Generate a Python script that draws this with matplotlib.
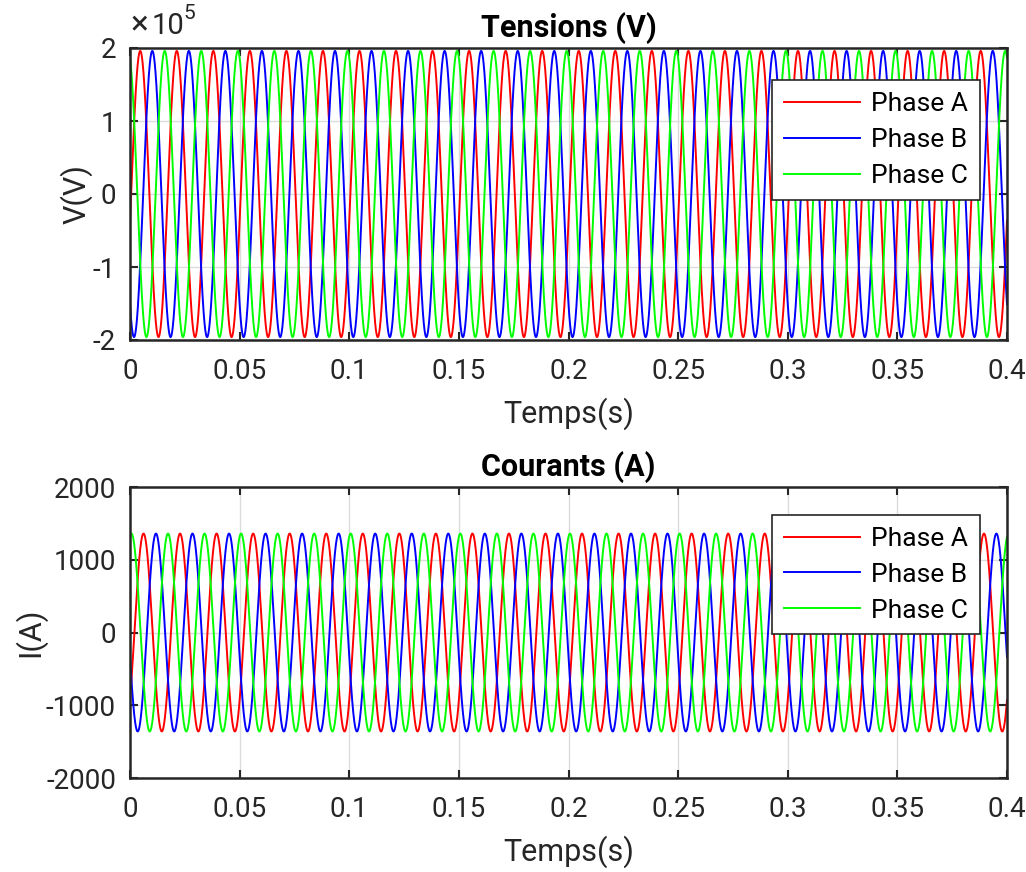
import numpy as np
import matplotlib.pyplot as plt
from matplotlib.ticker import FuncFormatter

# Three-phase signals (60 Hz), parameters
freq = 60.0
phases = ["Phase A", "Phase B", "Phase C"]
colors = ["#ff0000", "#0000ff", "#00ff00"]
v_amp = 1.96e5                       # V
v_peak_frac = [0.28, 0.61, 0.95]     # peak instant as fraction of period
i_amp = 1360.0                       # A
i_peak_frac = [0.37, 0.71, 0.04]
x_ticks = [0, 0.05, 0.1, 0.15, 0.2, 0.25, 0.3, 0.35, 0.4]
x_ticklabels = ["0", "0.05", "0.1", "0.15", "0.2", "0.25", "0.3", "0.35", "0.4"]
v_ticks = [-2e5, -1e5, 0, 1e5, 2e5]
i_ticks = [-2000, -1000, 0, 1000, 2000]

t = np.linspace(0, 0.4, 8001)
T = 1.0 / freq

plt.rcParams["font.family"] = ["Roboto", "DejaVu Sans"]
plt.rcParams["axes.unicode_minus"] = False
dark = "#262626"

fig = plt.figure(figsize=(10.26, 8.72), dpi=100)
ax1 = fig.add_axes([130 / 1026, 1 - 340 / 872, 877 / 1026, 292 / 872])
ax2 = fig.add_axes([130 / 1026, 1 - 778 / 872, 877 / 1026, 291 / 872])

def style(ax):
    ax.set_xlim(0, 0.4)
    ax.set_xticks(x_ticks)
    ax.set_xticklabels(x_ticklabels)
    ax.grid(True, color="#dcdcdc", linewidth=1.0)
    ax.set_axisbelow(True)
    ax.tick_params(direction="in", length=6, width=1.5, labelsize=20,
                   colors=dark, top=True, right=True)
    ax.tick_params(axis="x", pad=13)
    ax.tick_params(axis="y", pad=10)
    for s in ax.spines.values():
        s.set_linewidth(1.8)
        s.set_color(dark)
    ax.set_xlabel("Temps(s)", fontsize=22, color=dark, labelpad=9)

def add_legend(ax, ytop):
    leg = ax.legend(loc="upper right", bbox_to_anchor=(0.969, ytop), fontsize=19,
                    fancybox=False, framealpha=1, edgecolor=dark, handlelength=2.9,
                    handletextpad=0.4, borderpad=0.45, labelspacing=0.45,
                    borderaxespad=0)
    leg.get_frame().set_linewidth(1.2)

# Tensions
for name, c, f in zip(phases, colors, v_peak_frac):
    ax1.plot(t, v_amp * np.cos(2 * np.pi * (t / T - f)), color=c, lw=1.4, label=name)
style(ax1)
ax1.set_ylim(-2e5, 2e5)
ax1.set_yticks(v_ticks)
ax1.yaxis.set_major_formatter(FuncFormatter(lambda v, _: f"{v / 1e5:g}"))
# exponent label, MATLAB style
fig.text(131 / 1026, 1 - 34 / 872, "×", fontsize=24, color=dark,
         ha="left", va="baseline")
fig.text(152 / 1026, 1 - 34 / 872, "10", fontsize=21, color=dark,
         ha="left", va="baseline")
fig.text(183 / 1026, 1 - 19 / 872, "5", fontsize=15, color=dark,
         ha="left", va="baseline")
ax1.set_ylabel("V(V)", fontsize=22, color=dark, labelpad=0)
ax1.set_title("Tensions (V)", fontsize=22, fontweight="bold", pad=8)
add_legend(ax1, 0.89)

# Courants
for name, c, f in zip(phases, colors, i_peak_frac):
    ax2.plot(t, i_amp * np.cos(2 * np.pi * (t / T - f)), color=c, lw=1.4, label=name)
style(ax2)
ax2.set_ylim(-2000, 2000)
ax2.set_yticks(i_ticks)
ax2.set_ylabel("I(A)", fontsize=22, color=dark, labelpad=0)
ax2.set_title("Courants (A)", fontsize=22, fontweight="bold", pad=8)
add_legend(ax2, 0.904)

fig.savefig("out.png", dpi=100)
